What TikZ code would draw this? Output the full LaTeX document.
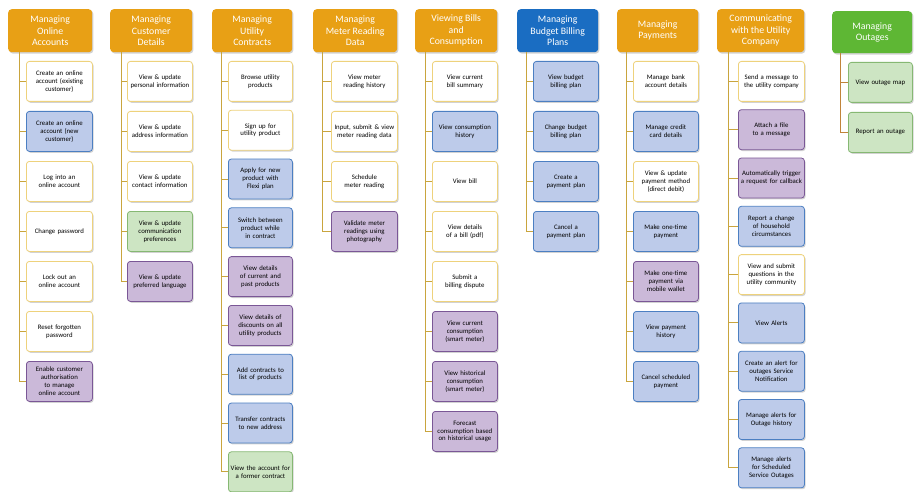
\documentclass[tikz,border=0pt]{standalone}
\usepackage{fontspec}
\setmainfont{Carlito}
\usetikzlibrary{shadows}

\definecolor{hdrorange}{HTML}{E8A015}
\definecolor{hdrblue}{HTML}{1A6DC2}
\definecolor{hdrgreen}{HTML}{5EB734}
\definecolor{wline}{HTML}{EED27C}
\definecolor{bfill}{HTML}{BDCBEA}
\definecolor{bline}{HTML}{4C7FC2}
\definecolor{pfill}{HTML}{CBB9D9}
\definecolor{pline}{HTML}{7A5796}
\definecolor{gfill}{HTML}{CDE5C3}
\definecolor{gline}{HTML}{86B873}
\definecolor{conncol}{HTML}{C9A53E}
\definecolor{conngreen}{HTML}{C0843A}

\newcommand\hdrfont{\fontsize{9.8}{11.4}\selectfont}
\newcommand\cellfont{\fontsize{6.8}{7.9}\selectfont\hyphenpenalty=10000\exhyphenpenalty=10000}

\tikzset{
  shade/.style={drop shadow={shadow xshift=1.2pt,shadow yshift=-1.4pt,opacity=0.35}},
  hdr/.style={rounded corners=3.5pt, text=white, align=center, font=\hdrfont,
    inner sep=1pt, minimum height=43pt, anchor=north west, shade},
  cell/.style={rounded corners=3pt, minimum height=40pt, align=center, font=\cellfont,
    inner xsep=2pt, inner ysep=1pt, line width=0.8pt, anchor=north west, shade},
  wbox/.style={cell, draw=wline, fill=white},
  bbox/.style={cell, draw=bline, fill=bfill},
  pbox/.style={cell, draw=pline, fill=pfill},
  gbox/.style={cell, draw=gline, fill=gfill},
  conn/.style={draw=conncol, line width=1pt},
}

\begin{document}
\begin{tikzpicture}[x=1pt,y=-1pt]
\useasboundingbox (0,0) rectangle (915,492);
\fill[white] (0,0) rectangle (915,492);

% ---- Managing Online Accounts
\node[hdr, fill=hdrorange, minimum width=84pt] (h1) at (8,9) {Managing\\Online\\Accounts};
\coordinate (r1) at (19,52);
\foreach \st/\t [count=\i from 0] in {
  wbox/{Create an online account (existing customer)},
  bbox/{Create an online account (new customer)},
  wbox/{Log into an online account},
  wbox/{Change password},
  wbox/{Lock out an online account},
  wbox/{Reset forgotten password},
  pbox/{Enable customer authorisation to manage online account}}
{
  \node[\st, text width=62pt] (c1-\i) at (26,{61+\i*50}) {\t};
  \draw[conn] (r1) |- (c1-\i.west);
}

% ---- Managing Customer Details
\node[hdr, fill=hdrorange, minimum width=82pt] (h2) at (110,9) {Managing\\Customer\\Details};
\coordinate (r2) at (121,52);
\foreach \st/\t [count=\i from 0] in {
  wbox/{View \& update personal information},
  wbox/{View \& update address information},
  wbox/{View \& update contact information},
  gbox/{View \& update communication preferences},
  pbox/{View \& update preferred language}}
{
  \node[\st, text width=61pt] (c2-\i) at (127,{61+\i*50}) {\t};
  \draw[conn] (r2) |- (c2-\i.west);
}

% ---- Managing Utility Contracts
\node[hdr, fill=hdrorange, minimum width=80pt] (h3) at (212,9) {Managing\\Utility\\Contracts};
\coordinate (r3) at (221,52);
\foreach \st/\t [count=\i from 0] in {
  wbox/{Browse utility products},
  wbox/{Sign up for utility product},
  bbox/{Apply for new product with Flexi plan},
  bbox/{Switch between product while in contract},
  pbox/{View details of current and past products},
  pbox/{View details of discounts on all utility products},
  bbox/{Add contracts to list of products},
  bbox/{Transfer contracts to new address},
  gbox/{View the account for a former contract}}
{
  \node[\st, text width=60pt] (c3-\i) at (228,{61+\i*48.8}) {\t};
  \draw[conn] (r3) |- (c3-\i.west);
}

% ---- Managing Meter Reading Data
\node[hdr, fill=hdrorange, minimum width=84pt] (h4) at (313,9) {Managing\\Meter Reading\\Data};
\coordinate (r4) at (322,52);
\foreach \st/\t [count=\i from 0] in {
  wbox/{View meter reading history},
  wbox/{Input, submit \& view meter reading data},
  wbox/{Schedule meter reading},
  pbox/{Validate meter readings using photography}}
{
  \node[\st, text width=62pt] (c4-\i) at (331,{61+\i*50}) {\t};
  \draw[conn] (r4) |- (c4-\i.west);
}

% ---- Viewing Bills and Consumption
\node[hdr, fill=hdrorange, minimum width=82pt] (h5) at (415,9) {Viewing Bills\\and\\Consumption};
\coordinate (r5) at (425,52);
\foreach \st/\t [count=\i from 0] in {
  wbox/{View current bill summary},
  bbox/{View consumption history},
  wbox/{View bill},
  wbox/{View details of a bill (pdf)},
  wbox/{Submit a billing dispute},
  pbox/{View current consumption (smart meter)},
  pbox/{View historical consumption (smart meter)},
  pbox/{Forecast consumption based on historical usage}}
{
  \node[\st, text width=61pt] (c5-\i) at (432,{61+\i*50}) {\t};
  \draw[conn] (r5) |- (c5-\i.west);
}

% ---- Managing Budget Billing Plans
\node[hdr, fill=hdrblue, minimum width=81pt] (h6) at (517,9) {Managing\\Budget Billing\\Plans};
\coordinate (r6) at (526,52);
\foreach \st/\t [count=\i from 0] in {
  bbox/{View budget billing plan},
  bbox/{Change budget billing plan},
  bbox/{Create a payment plan},
  bbox/{Cancel a payment plan}}
{
  \node[\st, text width=61pt] (c6-\i) at (533,{61+\i*50}) {\t};
  \draw[conn] (r6) |- (c6-\i.west);
}

% ---- Managing Payments
\node[hdr, fill=hdrorange, minimum width=81pt] (h7) at (617,9) {Managing\\Payments};
\coordinate (r7) at (626,52);
\foreach \st/\t [count=\i from 0] in {
  wbox/{Manage bank account details},
  bbox/{Manage credit card details},
  wbox/{View \& update payment method (direct debit)},
  bbox/{Make one-time payment},
  pbox/{Make one-time payment via mobile wallet},
  bbox/{View payment history},
  bbox/{Cancel scheduled payment}}
{
  \node[\st, text width=61pt] (c7-\i) at (633,{61+\i*50}) {\t};
  \draw[conn] (r7) |- (c7-\i.west);
}

% ---- Communicating with the Utility Company
\node[hdr, fill=hdrorange, minimum width=87pt] (h8) at (717,9) {Communicating\\with the Utility\\Company};
\coordinate (r8) at (728,52);
\foreach \st/\t [count=\i from 0] in {
  wbox/{Send a message to the utility company},
  pbox/{Attach a file to a message},
  pbox/{Automatically trigger a request for callback},
  bbox/{Report a change of household circumstances},
  wbox/{View and submit questions in the utility community},
  bbox/{View Alerts},
  bbox/{Create an alert for outages Service Notification},
  bbox/{Manage alerts for Outage history},
  bbox/{Manage alerts for Scheduled Service Outages}}
{
  \node[\st, text width=62pt] (c8-\i) at (738,{61+\i*48.3}) {\t};
  \draw[conn] (r8) |- (c8-\i.west);
}

% ---- Managing Outages
\node[hdr, fill=hdrgreen, minimum width=80pt, minimum height=42pt] (h9) at (832,11) {Managing\\Outages};
\coordinate (r9) at (840,53);
\foreach \st/\t [count=\i from 0] in {
  gbox/{View outage map},
  gbox/{Report an outage}}
{
  \node[\st, text width=60pt] (c9-\i) at (848,{62+\i*50}) {\t};
  \draw[conn, draw=conngreen] (r9) |- (c9-\i.west);
}
\end{tikzpicture}
\end{document}
